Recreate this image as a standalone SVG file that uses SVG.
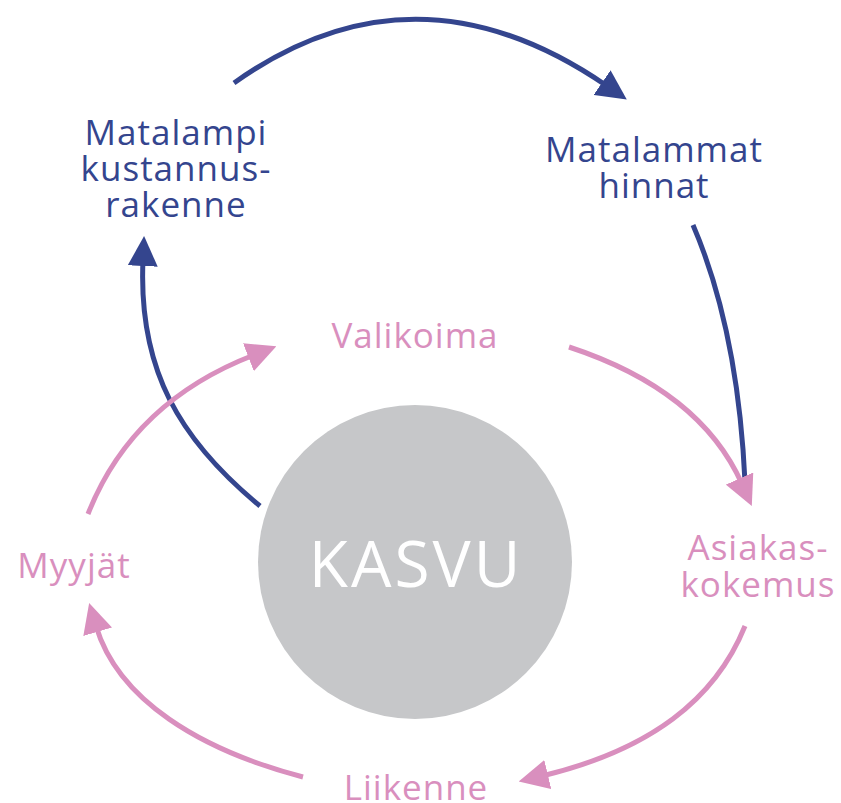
<svg xmlns="http://www.w3.org/2000/svg" width="841" height="803" viewBox="0 0 841 803">
  <style>
    .lbl { font-family: "Open Sans", "Liberation Sans", sans-serif; font-size: 35px; letter-spacing: 1px; text-anchor: middle; }
    .navy { fill: #34458e; }
    .pink { fill: #d98fbe; }
    .ln { fill: none; stroke-width: 5; stroke-linecap: butt; }
    .ln-navy { stroke: #34458e; }
    .ln-pink { stroke: #d98fbe; }
  </style>
  <defs>
    <marker id="ah-navy" viewBox="0 0 10 10" refX="2" refY="5" markerWidth="6" markerHeight="6" markerUnits="strokeWidth" orient="auto">
      <path d="M0,0 L10,5 L0,10 z" fill="#34458e"/>
    </marker>
    <marker id="ah-pink" viewBox="0 0 10 10" refX="2" refY="5" markerWidth="6" markerHeight="6" markerUnits="strokeWidth" orient="auto">
      <path d="M0,0 L10,5 L0,10 z" fill="#d98fbe"/>
    </marker>
  </defs>

  <g id="connectors">
    <path class="ln ln-navy" d="M234,83 Q415,-46 607,86" marker-end="url(#ah-navy)"/>
    <path class="ln ln-navy" d="M693,225 Q738,330 745,482"/>
    <path class="ln ln-navy" d="M260,506 C180,440 138,370 143,260" marker-end="url(#ah-navy)"/>
    <path class="ln ln-pink" d="M569,347 Q700,390 742,484" marker-end="url(#ah-pink)"/>
    <path class="ln ln-pink" d="M88,514 Q132,402 254,355" marker-end="url(#ah-pink)"/>
    <path class="ln ln-pink" d="M745,626 C715,700 650,750 542,776" marker-end="url(#ah-pink)"/>
    <path class="ln ln-pink" d="M303,777 C200,750 118,700 96,626" marker-end="url(#ah-pink)"/>
  </g>

  <g id="kasvu">
    <circle cx="415" cy="562" r="157" fill="#c6c7c9"/>
    <text x="416" y="587" font-family="Open Sans, Liberation Sans, sans-serif" font-size="64" letter-spacing="3" fill="#ffffff" text-anchor="middle">KASVU</text>
  </g>

  <g id="kustannusrakenne">
    <text class="lbl navy" x="176" y="145">Matalampi</text>
    <text class="lbl navy" x="176" y="181">kustannus-</text>
    <text class="lbl navy" x="176" y="217">rakenne</text>
  </g>

  <g id="hinnat">
    <text class="lbl navy" x="654" y="162">Matalammat</text>
    <text class="lbl navy" x="654" y="198">hinnat</text>
  </g>

  <g id="valikoima">
    <text class="lbl pink" x="415" y="348">Valikoima</text>
  </g>

  <g id="asiakaskokemus">
    <text class="lbl pink" x="758" y="560">Asiakas-</text>
    <text class="lbl pink" x="758" y="597">kokemus</text>
  </g>

  <g id="liikenne">
    <text class="lbl pink" x="416" y="800">Liikenne</text>
  </g>

  <g id="myyjat">
    <text class="lbl pink" x="74" y="578">Myyjät</text>
  </g>
</svg>
